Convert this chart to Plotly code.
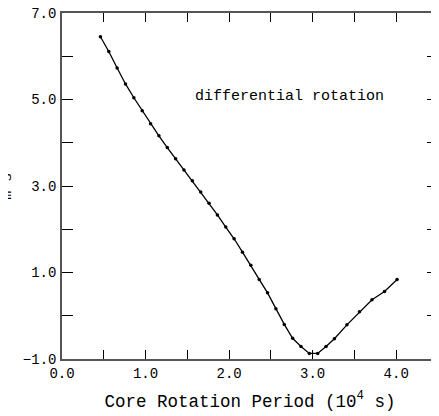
import plotly.graph_objects as go

period = [0.46, 0.56, 0.66, 0.76, 0.86, 0.96, 1.06, 1.16, 1.26, 1.36,
          1.46, 1.56, 1.66, 1.76, 1.86, 1.96, 2.06, 2.16, 2.26, 2.36,
          2.46, 2.56, 2.66, 2.76, 2.86, 2.96, 3.06, 3.16, 3.26, 3.41,
          3.56, 3.71, 3.86, 4.01]
value = [6.45, 6.11, 5.73, 5.36, 5.04, 4.74, 4.44, 4.16, 3.89, 3.63,
         3.37, 3.12, 2.86, 2.60, 2.33, 2.05, 1.78, 1.47, 1.17, 0.84,
         0.53, 0.16, -0.20, -0.52, -0.71, -0.87, -0.87, -0.71, -0.53, -0.21,
         0.09, 0.37, 0.56, 0.84]

x_tickvals = [0.0, 0.5, 1.0, 1.5, 2.0, 2.5, 3.0, 3.5, 4.0]
x_ticktext = ["0.0", " ", "1.0", " ", "2.0", " ", "3.0", " ", "4.0"]
y_tickvals = [-1, 0, 1, 2, 3, 4, 5, 6, 7]
y_ticktext = ["\u22121.0", " ", "1.0", " ", "3.0", " ", "5.0", " ", "7.0"]

FONT = "Liberation Mono, Courier New, monospace"

fig = go.Figure()
fig.add_trace(go.Scatter(
    x=period, y=value, mode="lines+markers",
    line=dict(color="black", width=1.3),
    marker=dict(color="black", size=3.5),
    showlegend=False,
))

fig.add_annotation(
    x=2.72, y=5.07, xref="x", yref="y",
    text="differential rotation", showarrow=False,
    font=dict(family=FONT, size=15, color="black"),
)
fig.add_annotation(
    x=-0.175, y=0.5, xref="paper", yref="paper",
    text="m s", textangle=-90, showarrow=False,
    font=dict(family=FONT, size=15, color="black"),
)

axis_common = dict(
    showline=True, linecolor="#555555", linewidth=1.5, mirror="ticks",
    ticks="inside", tickcolor="black", tickwidth=1,
    showgrid=False, zeroline=False, ticklabeloverflow="allow",
    tickfont=dict(family=FONT, size=14, color="black"),
)

fig.update_xaxes(range=[0, 4.5], tickmode="array", tickvals=x_tickvals,
                 ticktext=x_ticktext, ticklen=9,
                 title=dict(text="Core Rotation Period (10<sup>4</sup> s)",
                            font=dict(family=FONT, size=17.5, color="black"),
                            standoff=14),
                 **axis_common)
fig.update_yaxes(range=[-1, 7], tickmode="array", tickvals=y_tickvals,
                 ticktext=y_ticktext, ticklen=11, ticklabelstandoff=1,
                 **axis_common)

fig.update_layout(
    width=431, height=408,
    margin=dict(l=54, r=1, t=5, b=57, autoexpand=False),
    paper_bgcolor="white", plot_bgcolor="white",
)

fig.write_html("out.html")
